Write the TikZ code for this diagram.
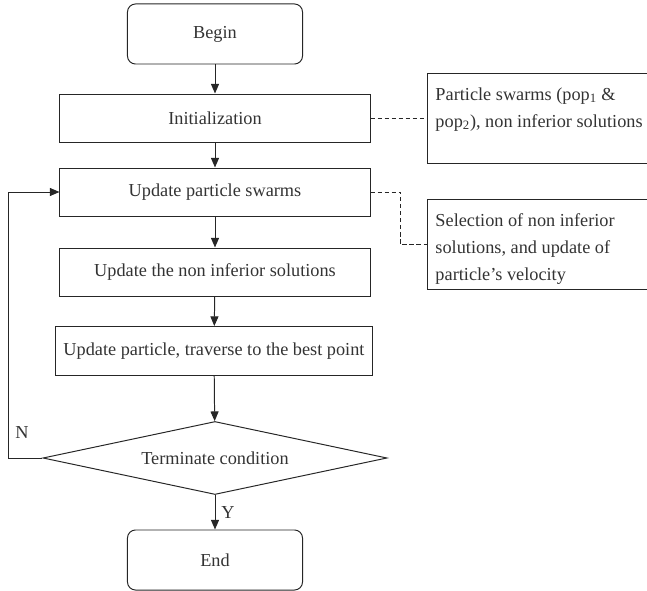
\documentclass[tikz,border=0pt]{standalone}
\usepackage{fontspec}
\setmainfont{Liberation Serif}
\usetikzlibrary{shapes.geometric,arrows.meta}
\newcommand{\notetext}[1]{\parbox[c][44pt][t]{6.6cm}{\raggedright #1}}

\begin{document}
\begin{tikzpicture}
  [x=0.025cm,y=-0.025cm,line width=0.7pt,draw=black!85,
   every node/.style={text=black!80,font=\fontsize{13}{19.2}\selectfont},
   term/.style={draw,rounded corners=2mm,minimum width=4.375cm,minimum height=1.5cm},
   proc/.style={draw,minimum width=7.75cm,minimum height=1.2cm},
   test/.style={draw,diamond,aspect=4.7,inner sep=0pt,minimum width=8.6cm,minimum height=1.825cm},
   note/.style={draw,anchor=north west,inner xsep=0.2cm,inner ysep=10pt,minimum width=7cm},
   flow/.style={-{Triangle[length=2.4mm,width=2mm]}},
   link/.style={dashed,dash pattern=on 3pt off 2pt}]
  \useasboundingbox (0,0) rectangle (647,591);

  \node[term] (begin) at (215,34)  {Begin};
  \node[proc] (init)  at (215,118) {Initialization};
  \node[proc] (upd)   at (215,192) {Update particle swarms};
  \node[proc] (nis)   at (215,272) {Update the non inferior solutions};
  \node[proc,minimum width=7.9cm,minimum height=1.225cm] (trav) at (214,351)
    {Update particle, traverse to the best point};
  \node[test] (cond)  at (215,458) {Terminate condition};
  \node[term] (end)   at (215,560) {End};

  \node[note] (swarm) at (427,73)
    {\notetext{Particle swarms (pop\textsubscript{1} \&\\
      pop\textsubscript{2}), non inferior solutions}};
  \node[note] (sel) at (427,199)
    {\notetext{Selection of non inferior\\ solutions, and update of\\
      particle's velocity}};

  \node (no)  at (22,433)  {N};
  \node (yes) at (228,513) {Y};

  \foreach \from/\to in {begin/init,init/upd,upd/nis,nis/trav,trav/cond,cond/end}
    \draw[flow] (\from) -- (\to);
  \draw[flow] (cond.west) -- ++(-34,0) |- (upd.west);

  \draw[link] (init.east) -- (init.east -| swarm.west);
  \draw[link] (upd.east) -- ++(30,0) |- (sel.west);
\end{tikzpicture}
\end{document}
